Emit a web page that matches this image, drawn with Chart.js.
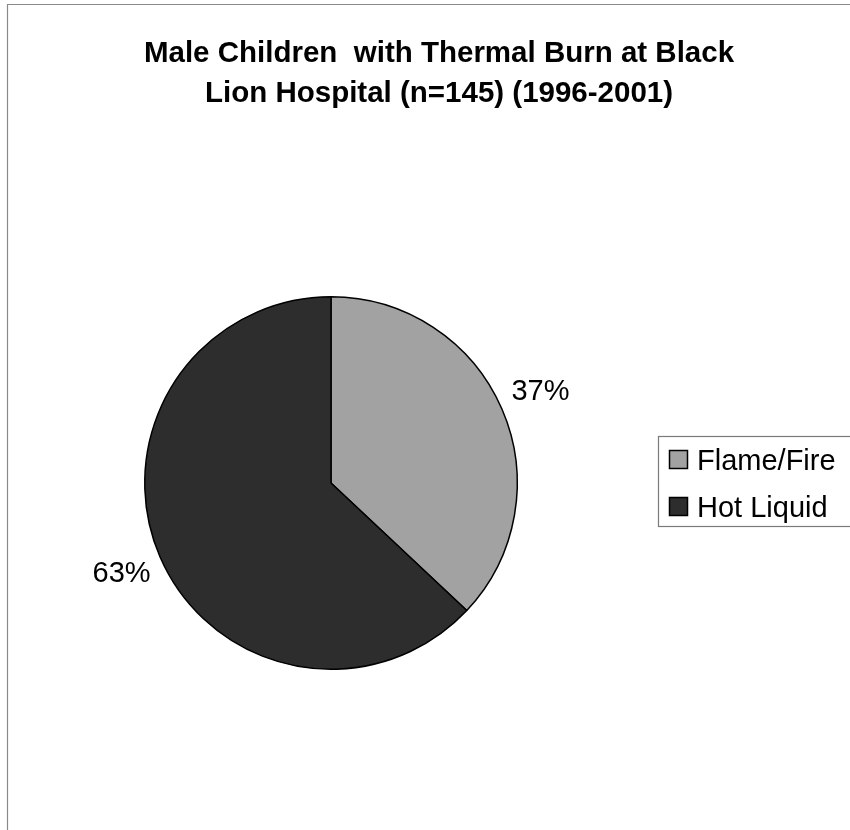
<!DOCTYPE html>
<html><head><meta charset="utf-8">
<script src="https://cdn.jsdelivr.net/npm/chart.js@4/dist/chart.umd.min.js"></script>
<style>html,body{margin:0;padding:0;background:#fff;overflow:hidden}#wrap{width:850px;height:830px;position:relative}</style>
</head><body><div id="wrap"><canvas id="c" width="850" height="830" style="width:850px;height:830px"></canvas></div>
<script>
const titleLines = ['Male Children  with Thermal Burn at Black', 'Lion Hospital (n=145) (1996-2001)'];
const categories = ['Flame/Fire', 'Hot Liquid'];
const percentValues = [37, 63];
const sliceColors = ['#a2a2a2', '#2d2d2d'];

const FONT = '"Liberation Sans", Arial, Helvetica, sans-serif';

const decor = {
  id: 'decor',
  beforeDraw(chart) {
    const ctx = chart.ctx;
    ctx.save();
    ctx.fillStyle = '#fff';
    ctx.fillRect(0, 0, chart.width, chart.height);
    ctx.strokeStyle = '#8a8a8a';
    ctx.lineWidth = 1.2;
    ctx.beginPath();
    ctx.moveTo(7.5, chart.height + 2);
    ctx.lineTo(7.5, 4.5);
    ctx.lineTo(chart.width + 2, 4.5);
    ctx.stroke();
    ctx.fillStyle = '#000';
    ctx.font = 'bold 29.5px ' + FONT;
    ctx.textAlign = 'center';
    ctx.textBaseline = 'alphabetic';
    ctx.fillText(titleLines[0], 439, 62);
    ctx.fillText(titleLines[1], 439, 102);
    ctx.restore();
  },
  afterDatasetsDraw(chart) {
    const ctx = chart.ctx;
    const meta = chart.getDatasetMeta(0);
    ctx.save();
    ctx.font = '29px ' + FONT;
    ctx.fillStyle = '#000';
    ctx.textAlign = 'center';
    ctx.textBaseline = 'middle';
    meta.data.forEach((arc, i) => {
      const p = arc.getProps(['x', 'y', 'startAngle', 'endAngle', 'outerRadius'], true);
      const mid = (p.startAngle + p.endAngle) / 2;
      const d = p.outerRadius + 42;
      ctx.fillText(percentValues[i] + '%', p.x + Math.cos(mid) * d, p.y + Math.sin(mid) * d);
    });
    // legend
    ctx.strokeStyle = '#7a7a7a';
    ctx.lineWidth = 1.2;
    ctx.strokeRect(658.5, 436.5, 220, 90);
    ctx.font = '29px ' + FONT;
    ctx.textAlign = 'left';
    ctx.textBaseline = 'alphabetic';
    const baselines = [470, 517];
    categories.forEach((lab, i) => {
      const b = baselines[i];
      ctx.fillStyle = sliceColors[i];
      ctx.fillRect(669, b - 20, 19, 19);
      ctx.strokeStyle = '#000';
      ctx.lineWidth = 1.5;
      ctx.strokeRect(669.5, b - 19.5, 18, 18);
      ctx.fillStyle = '#000';
      ctx.fillText(lab, 697, b);
    });
    ctx.restore();
  }
};

new Chart(document.getElementById('c'), {
  type: 'pie',
  data: {
    labels: categories,
    datasets: [{
      data: percentValues,
      backgroundColor: sliceColors,
      borderColor: '#000',
      borderWidth: 1.5
    }]
  },
  options: {
    responsive: false,
    animation: false,
    devicePixelRatio: 1,
    layout: { padding: { left: 144, right: 332, top: 296, bottom: 160 } },
    plugins: {
      legend: { display: false },
      title: { display: false },
      tooltip: { enabled: false }
    }
  },
  plugins: [decor]
});
</script>
</body></html>
